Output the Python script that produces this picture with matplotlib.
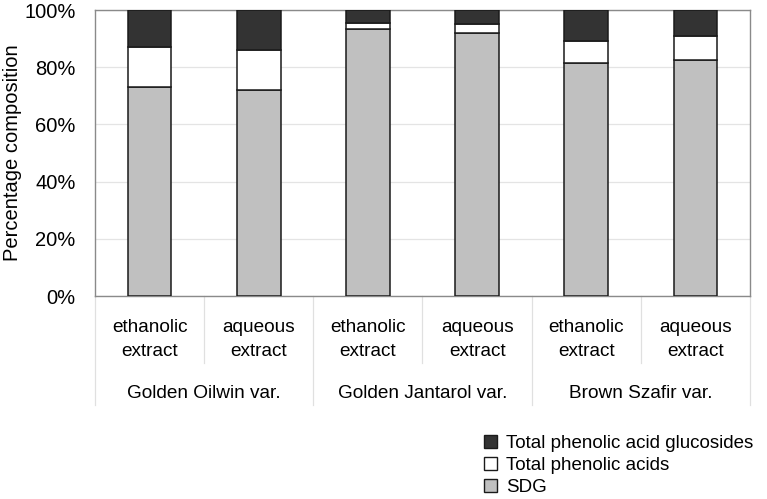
import matplotlib
matplotlib.use("Agg")
import matplotlib.pyplot as plt
from matplotlib.patches import Patch
import numpy as np

plt.rcParams["font.family"] = ["Liberation Sans", "DejaVu Sans"]

# --- data (percent composition) ---
extracts = ["ethanolic\nextract", "aqueous\nextract"] * 3
varieties = ["Golden Oilwin var.", "Golden Jantarol var.", "Brown Szafir var."]
sdg = [73.2, 72.0, 93.2, 92.0, 81.5, 82.5]
phenolic_acids = [13.7, 14.0, 2.3, 3.0, 7.8, 8.5]
phenolic_glucosides = [13.1, 14.0, 4.5, 5.0, 10.7, 9.0]

C_SDG, C_ACID, C_GLUC = "#c0c0c0", "#ffffff", "#333333"
EDGE = "#1a1a1a"

fig = plt.figure(figsize=(7.67, 4.99), dpi=100)
ax = fig.add_axes([95 / 767, 1 - 296 / 499, 655 / 767, 286 / 499])

x = np.arange(len(sdg))
w = 0.40
kw = dict(width=w, edgecolor=EDGE, linewidth=1.1, zorder=3)
ax.bar(x, sdg, color=C_SDG, **kw)
b2 = np.array(sdg)
ax.bar(x, phenolic_acids, bottom=b2, color=C_ACID, **kw)
b3 = b2 + np.array(phenolic_acids)
ax.bar(x, phenolic_glucosides, bottom=b3, color=C_GLUC, **kw)

ax.set_xlim(-0.5, len(sdg) - 0.5)
ax.set_ylim(0, 100)
ax.set_yticks(range(0, 101, 20))
ax.set_yticklabels([f"{v}%" for v in range(0, 101, 20)], fontsize=14.5)
ax.tick_params(axis="y", length=0, pad=14)
ax.set_xticks([])
ax.yaxis.grid(True, color="#e4e4e4", lw=0.9, zorder=0)
for s in ax.spines.values():
    s.set_color("#8a8a8a")
    s.set_linewidth(1.0)
ax.set_ylabel("Percentage composition", fontsize=14.5, va="center")
ax.yaxis.set_label_coords((13 - 95) / 655, 0.5)

# category axis: two-level labels with separator lines
tr = ax.get_xaxis_transform()
sub_bottom, grp_bottom = -67 / 286, -109 / 286
for i in range(len(sdg) + 1):
    xb = i - 0.5
    y1 = grp_bottom if i % 2 == 0 else sub_bottom
    ax.plot([xb, xb], [0, y1], color="#e0e0e0", lw=0.9, transform=tr, clip_on=False)
for i, lab in enumerate(extracts):
    ax.text(i, -43.5 / 286, lab, transform=tr, ha="center", va="center",
            fontsize=13.7, linespacing=1.55)
for g, lab in enumerate(varieties):
    ax.text(2 * g + 0.5, -97 / 286, lab, transform=tr, ha="center", va="center",
            fontsize=13.7)

handles = [Patch(facecolor=C_GLUC, edgecolor=EDGE, label="Total phenolic acid glucosides"),
           Patch(facecolor=C_ACID, edgecolor=EDGE, label="Total phenolic acids"),
           Patch(facecolor=C_SDG, edgecolor=EDGE, label="SDG")]
fig.legend(handles=handles, loc="upper left", bbox_to_anchor=(484 / 767, 1 - 434.5 / 499),
           frameon=False, fontsize=13.5, handlelength=0.7, handleheight=0.7,
           handletextpad=0.5, labelspacing=0.27, borderaxespad=0, borderpad=0)

fig.savefig("out.png", dpi=100)
